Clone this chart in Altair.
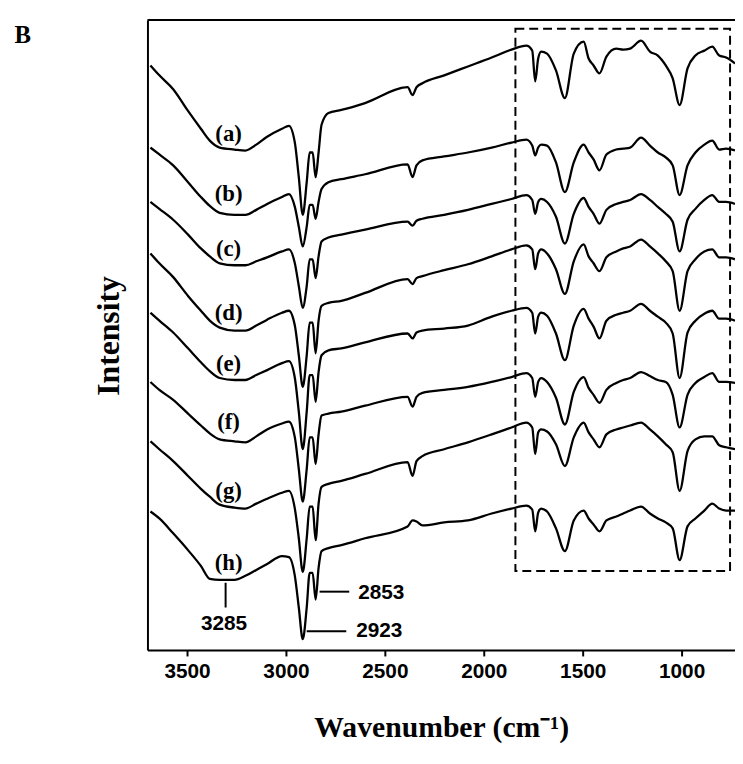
import altair as alt
import pandas as pd

# Wavenumber grid (cm-1) at which the spectra were read
WN = [3685, 3640, 3570, 3495, 3430, 3385, 3335, 3260, 3205, 3150, 3095, 3020, 2985,
      2955, 2935, 2915, 2895, 2880, 2865, 2850, 2835, 2820, 2785, 2720, 2600, 2385,
      2360, 2340, 2310, 2200, 2080, 1960, 1860, 1785, 1755, 1740, 1725, 1710, 1680,
      1635, 1590, 1545, 1495, 1470, 1445, 1415, 1380, 1330, 1295, 1260, 1205, 1160,
      1120, 1080, 1045, 1010, 970, 930, 885, 845, 810, 775, 730]

# Stacked spectra, read as vertical offset from the top of the frame (larger = lower)
A = [62, 72, 86, 108, 126, 138, 145, 147, 148, 142, 134, 126, 123,
     140, 175, 213, 180, 150, 150, 175, 150, 122, 110, 107, 100, 84,
     92, 84, 80, 72, 63, 54, 46, 42, 47, 78, 55, 48, 50,
     67, 95, 50, 38, 55, 62, 70, 53, 45, 46, 45, 37, 48,
     52, 62, 75, 102, 65, 52, 47, 43, 52, 54, 60]
B = [145, 152, 163, 180, 195, 204, 211, 213, 213, 208, 202, 195, 192,
     205, 225, 245, 225, 203, 203, 217, 200, 187, 180, 177, 172, 162,
     175, 163, 158, 154, 150, 145, 140, 137, 143, 153, 145, 142, 143,
     160, 190, 160, 142, 150, 157, 168, 152, 147, 146, 145, 135, 143,
     150, 155, 163, 193, 163, 150, 142, 138, 147, 146, 148]
C = [200, 207, 218, 233, 247, 255, 262, 264, 264, 260, 256, 250, 248,
     262, 285, 307, 285, 258, 258, 277, 255, 240, 236, 233, 228, 220,
     224, 219, 217, 213, 208, 202, 197, 193, 198, 212, 200, 197, 200,
     215, 242, 212, 196, 205, 212, 222, 208, 202, 200, 198, 192, 198,
     205, 212, 220, 250, 218, 207, 198, 193, 200, 200, 202]
D = [252, 262, 276, 295, 310, 320, 327, 330, 330, 325, 319, 312, 310,
     325, 355, 387, 355, 322, 322, 353, 320, 305, 302, 300, 292, 278,
     283, 277, 275, 269, 263, 255, 248, 244, 248, 268, 252, 248, 252,
     268, 293, 260, 243, 255, 262, 270, 256, 250, 247, 245, 238, 245,
     252, 260, 270, 310, 270, 258, 250, 248, 256, 256, 258]
E = [312, 320, 332, 348, 362, 371, 378, 380, 380, 375, 370, 363, 361,
     378, 412, 450, 412, 375, 375, 402, 372, 355, 350, 348, 342, 333,
     338, 332, 330, 328, 325, 316, 310, 307, 312, 333, 316, 312, 315,
     333, 360, 325, 308, 318, 326, 338, 320, 314, 312, 310, 303, 310,
     316, 322, 333, 378, 332, 320, 313, 310, 318, 318, 320]
F = [382, 390, 400, 414, 426, 434, 440, 442, 443, 437, 430, 424, 422,
     438, 470, 503, 470, 438, 438, 465, 435, 416, 414, 412, 406, 397,
     407, 397, 393, 390, 387, 382, 377, 373, 378, 397, 382, 378, 382,
     398, 425, 392, 377, 388, 395, 403, 390, 383, 380, 378, 372, 376,
     380, 382, 395, 428, 395, 383, 377, 373, 382, 382, 383]
G = [442, 450, 462, 477, 490, 498, 506, 509, 510, 505, 500, 494, 492,
     510, 540, 574, 540, 508, 508, 542, 505, 488, 485, 482, 475, 463,
     477, 462, 457, 450, 443, 435, 428, 423, 428, 455, 433, 430, 432,
     445, 467, 438, 423, 433, 440, 448, 435, 430, 428, 426, 423, 430,
     437, 445, 453, 492, 452, 440, 437, 437, 446, 448, 450]
H = [513, 520, 535, 552, 568, 581, 582, 582, 578, 572, 566, 558, 559,
     578, 610, 642, 610, 575, 575, 602, 570, 553, 550, 547, 540, 528,
     522, 523, 527, 524, 522, 515, 510, 507, 511, 533, 514, 510, 513,
     530, 553, 522, 512, 520, 526, 533, 522, 518, 515, 512, 508, 515,
     520, 524, 530, 562, 528, 520, 512, 505, 510, 512, 512]

CURVES = ["(a)", "(b)", "(c)", "(d)", "(e)", "(f)", "(g)", "(h)"]
SERIES = [A, B, C, D, E, F, G, H]

# curve labels
LABEL_WN = [3290] * 8
LABEL_Y = [131, 192, 248, 312, 364, 423, 492, 565]

# peak annotations
ANN_LABELS = ["3285", "2853", "2923"]
ANN_TEXT_WN = [3430, 2635, 2645]
ANN_TEXT_Y = [627, 595, 634]
ANN_RULE_WN = [3305, 2830, 2895]
ANN_RULE_WN2 = [3305, 2680, 2695]
ANN_RULE_Y = [585, 594, 634]
ANN_RULE_Y2 = [610, 594, 634]

# dashed region box
BOX = {"wn": 1840, "wn2": 755, "y": 25, "y2": 573}

X_TICKS = [3500, 3000, 2500, 2000, 1500, 1000]

rows = []
for name, vals in zip(CURVES, SERIES):
    for w, v in zip(WN, vals):
        rows.append({"wn": w, "y": v, "curve": name})
spec = pd.DataFrame(rows)

labels_df = pd.DataFrame({"wn": LABEL_WN, "y": LABEL_Y, "label": CURVES})
ann_text_df = pd.DataFrame({"wn": ANN_TEXT_WN, "y": ANN_TEXT_Y, "label": ANN_LABELS})
ann_rule_df = pd.DataFrame({"wn": ANN_RULE_WN, "wn2": ANN_RULE_WN2,
                            "y": ANN_RULE_Y, "y2": ANN_RULE_Y2})
box_df = pd.DataFrame([BOX])

W, Hh = 594, 637
XT = "Wavenumber (cm\u207b\u00b9)"

xscale = alt.Scale(domain=[730, 3700], reverse=True, nice=False, zero=False)
yscale = alt.Scale(domain=[16, 653], reverse=True, nice=False, zero=False)

xaxis = alt.Axis(values=X_TICKS, format="d", grid=False, domainColor="black", domainWidth=2,
                 tickColor="black", tickWidth=2, tickSize=6, labelPadding=5,
                 labelFont="Liberation Sans", labelFontWeight="bold", labelFontSize=21,
                 labelColor="black", title=XT, titleFont="Liberation Serif",
                 titleFontWeight="bold", titleFontSize=30, titleColor="black",
                 titlePadding=31, labelFlush=False)
yaxis = alt.Axis(labels=False, ticks=False, grid=False, domainColor="black", domainWidth=2,
                 title="Intensity", titleFont="Liberation Serif", titleFontWeight="bold",
                 titleFontSize=32, titleColor="black", titleAngle=270,
                 titleX=-39, titleY=319, titleAlign="center", titleBaseline="middle")


def X(field="wn"):
    return alt.X(f"{field}:Q", scale=xscale, axis=xaxis, title=XT)


def Y(field="y"):
    return alt.Y(f"{field}:Q", scale=yscale, axis=yaxis, title="Intensity")


lines = alt.Chart(spec).mark_line(color="black", strokeWidth=2.3, strokeJoin="round",
                                  interpolate="monotone").encode(
    x=X(), y=Y(), detail="curve:N", order=alt.Order("wn:Q", sort="descending")
)

box = alt.Chart(box_df).mark_rect(filled=False, color="black", strokeWidth=2,
                                  strokeDash=[9, 5]).encode(
    x=X(), x2="wn2:Q", y=Y(), y2="y2:Q"
)

curve_labels = alt.Chart(labels_df).mark_text(
    font="Liberation Serif", fontWeight="bold", fontSize=23, color="black",
    align="center", baseline="middle"
).encode(x=X(), y=Y(), text="label:N")

ann_rules = alt.Chart(ann_rule_df).mark_rule(color="black", strokeWidth=2).encode(
    x=X(), x2="wn2:Q", y=Y(), y2="y2:Q"
)

ann_text = alt.Chart(ann_text_df).mark_text(
    font="Liberation Sans", fontWeight="bold", fontSize=21, color="black",
    align="left", baseline="middle"
).encode(x=X(), y=Y(), text="label:N")

frame_top = alt.Chart(pd.DataFrame({"k": [0]})).mark_rule(color="black", strokeWidth=2).encode(
    x=alt.value(0), x2=alt.value(W), y=alt.value(0)
)

panel = alt.Chart(pd.DataFrame({"t": ["B"]})).mark_text(
    font="Liberation Serif", fontWeight="bold", fontSize=25, color="black",
    align="center", baseline="middle"
).encode(x=alt.value(-126), y=alt.value(15), text="t:N")

chart = alt.layer(box, lines, curve_labels, ann_rules, ann_text, frame_top, panel).properties(
    width=W, height=Hh,
    autosize=alt.AutoSizeParams(type="none"),
    padding={"left": 141, "top": 8, "right": 0, "bottom": 98},
).configure_view(stroke=None).configure(background="white")

chart.save("out.html", embed_options={"renderer": "svg", "actions": False})
